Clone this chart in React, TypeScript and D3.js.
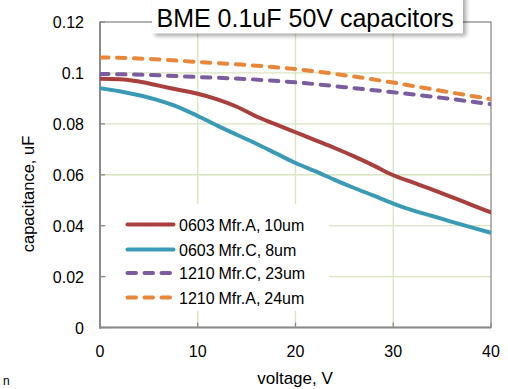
import React from "react";
import * as d3 from "d3";

const voltsFine = [0, 2, 4, 6, 8, 10, 12, 14, 16, 18, 20, 22, 24, 26, 28, 30, 32, 34, 36, 38, 40];
const red0603A = [0.0977, 0.0975, 0.0966, 0.095, 0.0934, 0.0918, 0.0896, 0.0867, 0.0829, 0.0798, 0.0767, 0.0736, 0.0705, 0.0672, 0.0636, 0.0598, 0.057, 0.0542, 0.0512, 0.0482, 0.0452];
const teal0603C = [0.094, 0.0928, 0.0912, 0.0892, 0.0866, 0.0831, 0.0793, 0.0757, 0.0722, 0.0684, 0.0646, 0.0614, 0.058, 0.0548, 0.0518, 0.0487, 0.046, 0.0438, 0.0415, 0.0393, 0.0372];
const voltsCoarse = [0, 5, 10, 15, 20, 25, 30, 35, 40];
const purple1210C = [0.0996, 0.0992, 0.0984, 0.0976, 0.0963, 0.0944, 0.0924, 0.0902, 0.0877];
const orange1210A = [0.1061, 0.1055, 0.1043, 0.1031, 0.1015, 0.0991, 0.0962, 0.0929, 0.0897];

const xTicks = [0, 10, 20, 30, 40];
const yTicks = [0, 0.02, 0.04, 0.06, 0.08, 0.1, 0.12];
const yTickLabels = ["0", "0.02", "0.04", "0.06", "0.08", "0.1", "0.12"];

const seriesNames = ["0603 Mfr.A, 10um", "0603 Mfr.C, 8um", "1210 Mfr.C, 23um", "1210 Mfr.A, 24um"];
const seriesColors = ["#a9403d", "#3b9bb6", "#7a5c9f", "#e8873a"];
const seriesDashed = [false, false, true, true];
const seriesX = [voltsFine, voltsFine, voltsCoarse, voltsCoarse];
const seriesY = [red0603A, teal0603C, purple1210C, orange1210A];

const titleText = "BME 0.1uF 50V capacitors";
const xTitle = "voltage, V";
const yTitle = "capacitance, uF";

export default function App() {
  const x = d3.scaleLinear().domain([0, 40]).range([100, 491]);
  const y = d3.scaleLinear().domain([0, 0.12]).range([327.5, 22]);
  const font = "'Liberation Sans', Arial, sans-serif";
  const gridColor = "#d8e4bf";
  const axisColor = "#8a8a8a";

  const lines = seriesY.map((ys, i) => {
    const pts: [number, number][] = ys.map((v, j) => [seriesX[i][j], v]);
    return d3
      .line<[number, number]>()
      .x((d) => x(d[0]))
      .y((d) => y(d[1]))
      .curve(d3.curveMonotoneX)(pts) as string;
  });

  const legX0 = 127.5;
  const legX1 = 173.5;
  const legY = [224.5, 249.5, 273, 297.5];

  return (
    <svg
      width={508}
      height={389}
      style={{ position: "absolute", left: 0, top: 0, background: "#fff" }}
      fontFamily={font}
    >
      <defs>
        <filter id="sh" x="-10%" y="-50%" width="120%" height="200%">
          <feGaussianBlur stdDeviation="2" />
        </filter>
        <clipPath id="plotClip">
          <rect x={100} y={22} width={391} height={306} />
        </clipPath>
      </defs>
      <rect x={0} y={0} width={508} height={389} fill="#fff" />
      {/* gridlines */}
      {yTicks.slice(1, -1).map((t) => (
        <line key={"gy" + t} x1={100} x2={491} y1={y(t)} y2={y(t)} stroke={gridColor} strokeWidth={1.3} />
      ))}
      {xTicks.slice(1, -1).map((t) => (
        <line key={"gx" + t} x1={x(t)} x2={x(t)} y1={22} y2={327.5} stroke={gridColor} strokeWidth={1.3} />
      ))}
      {/* plot border */}
      <rect x={100} y={22} width={391} height={305.5} fill="none" stroke={axisColor} strokeWidth={1.3} />
      <line x1={100} x2={100} y1={22} y2={328.5} stroke={axisColor} strokeWidth={2} />
      <line x1={99} x2={491} y1={327.5} y2={327.5} stroke={axisColor} strokeWidth={2} />
      {/* ticks */}
      {yTicks.map((t) => (
        <line key={"ty" + t} x1={100} x2={105} y1={y(t)} y2={y(t)} stroke={axisColor} strokeWidth={1.3} />
      ))}
      {xTicks.map((t) => (
        <line key={"tx" + t} x1={x(t)} x2={x(t)} y1={322.5} y2={327.5} stroke={axisColor} strokeWidth={1.3} />
      ))}
      {/* series */}
      <g clipPath="url(#plotClip)">
        {lines.map((d, i) => (
          <path
            key={"s" + i}
            d={d}
            fill="none"
            stroke={seriesColors[i]}
            strokeWidth={4}
            strokeLinecap="round"
            strokeLinejoin="round"
            strokeDasharray={seriesDashed[i] ? "8.5,8.5" : undefined}
          />
        ))}
      </g>
      {/* legend */}
      <rect x={106} y={204} width={223} height={107} fill="#fff" />
      {seriesNames.map((n, i) => (
        <g key={"l" + i}>
          <line
            x1={legX0}
            x2={legX1}
            y1={legY[i]}
            y2={legY[i]}
            stroke={seriesColors[i]}
            strokeWidth={4}
            strokeLinecap="round"
            strokeDasharray={seriesDashed[i] ? "8.5,8.5" : undefined}
          />
          <text x={179} y={legY[i] + 6} fontSize={16} fill="#000" wordSpacing={-0.5}>
            {n}
          </text>
        </g>
      ))}
      {/* y tick labels */}
      {yTicks.map((t, i) => (
        <text key={"yl" + t} x={84} y={y(t) + 6} fontSize={16} textAnchor="end" fill="#000">
          {yTickLabels[i]}
        </text>
      ))}
      {/* x tick labels */}
      {xTicks.map((t) => (
        <text key={"xl" + t} x={x(t)} y={356.5} fontSize={16} textAnchor="middle" fill="#000">
          {t}
        </text>
      ))}
      <text x={295} y={384} fontSize={17} textAnchor="middle" fill="#000">
        {xTitle}
      </text>
      <text transform="translate(33.5,194) rotate(-90)" fontSize={16.5} textAnchor="middle" fill="#000">
        {yTitle}
      </text>
      {/* title box */}
      <rect x={155} y={-4} width={311} height={40} fill="#000" opacity={0.35} filter="url(#sh)" />
      <rect x={152} y={-4} width={311} height={37.5} fill="#fff" />
      <text x={156.5} y={27} fontSize={25} fill="#000">
        {titleText}
      </text>
      {/* small stray letter at bottom-left */}
      <text x={3} y={385} fontSize={12} fill="#000">
        n
      </text>
    </svg>
  );
}
